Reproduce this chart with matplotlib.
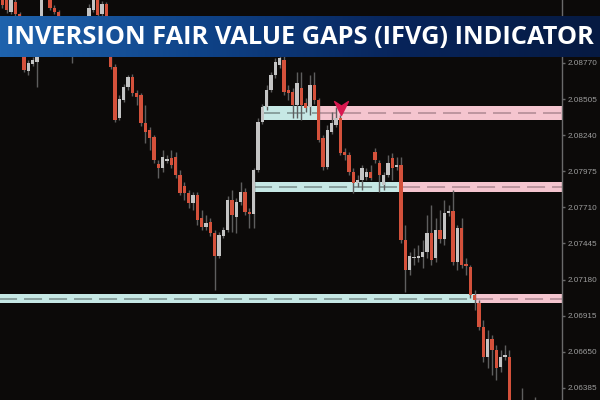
import matplotlib
matplotlib.use("Agg")
import matplotlib.pyplot as plt
import numpy as np
from matplotlib.patches import Rectangle
from matplotlib.path import Path
from matplotlib.colors import LinearSegmentedColormap

plt.rcParams['lines.scale_dashes'] = False

title = "INVERSION FAIR VALUE GAPS (IFVG) INDICATOR"

opens = [2.09291, 2.09247, 2.09144, 2.09217, 2.09129, 2.08902, 2.08711, 2.08762, 2.08777, 2.08938,
         2.09305, 2.09261, 2.09173, 2.09144, 2.09012, 2.08902, 2.08953, 2.08850, 2.08938, 2.09026,
         2.09085, 2.09159, 2.09232, 2.09129, 2.09203, 2.09012, 2.08740, 2.08366, 2.08498, 2.08593,
         2.08667, 2.08549, 2.08535, 2.08329, 2.08278, 2.08226, 2.08028, 2.07999, 2.08050, 2.08072,
         2.08080, 2.07947, 2.07867, 2.07815, 2.07742, 2.07801, 2.07632, 2.07566, 2.07602, 2.07522,
         2.07353, 2.07500, 2.07544, 2.07764, 2.07639, 2.07749, 2.07823, 2.07676, 2.07661, 2.07984,
         2.08336, 2.08447, 2.08571, 2.08681, 2.08755, 2.08792, 2.08571, 2.08557, 2.08461, 2.08586,
         2.08476, 2.08447, 2.08608, 2.08498, 2.08219, 2.08006, 2.08263, 2.08314, 2.08366, 2.08116,
         2.08094, 2.07969, 2.07889, 2.07911, 2.07933, 2.07969, 2.08116, 2.08035, 2.07874, 2.07947,
         2.08072, 2.08006, 2.08021, 2.07470, 2.07250, 2.07338, 2.07338, 2.07345, 2.07382, 2.07522,
         2.07338, 2.07544, 2.07478, 2.07668, 2.07683, 2.07309, 2.07558, 2.07294, 2.07272, 2.07066,
         2.07008, 2.06832, 2.06611, 2.06743, 2.06663, 2.06538, 2.06611, 2.06611, 2.06222, 2.06112,
         2.06185, 2.06112, 2.06061, 2.06149, 2.06002]

closes = [2.09195, 2.09159, 2.09232, 2.09129, 2.08902, 2.08718, 2.08770, 2.08792, 2.08938, 2.09247,
          2.09261, 2.09173, 2.09144, 2.09012, 2.08902, 2.08953, 2.08850, 2.08938, 2.09026, 2.09085,
          2.09173, 2.09247, 2.09122, 2.09203, 2.09012, 2.08740, 2.08351, 2.08505, 2.08593, 2.08667,
          2.08549, 2.08520, 2.08329, 2.08263, 2.08219, 2.08058, 2.07999, 2.08080, 2.08065, 2.08021,
          2.07947, 2.07815, 2.07815, 2.07742, 2.07801, 2.07617, 2.07566, 2.07595, 2.07522, 2.07353,
          2.07507, 2.07544, 2.07764, 2.07654, 2.07749, 2.07823, 2.07676, 2.07661, 2.07984, 2.08336,
          2.08447, 2.08571, 2.08681, 2.08777, 2.08806, 2.08557, 2.08549, 2.08461, 2.08623, 2.08461,
          2.08439, 2.08608, 2.08498, 2.08204, 2.08006, 2.08278, 2.08329, 2.08366, 2.08109, 2.08094,
          2.07969, 2.07889, 2.07911, 2.07999, 2.07969, 2.07925, 2.08058, 2.07947, 2.07947, 2.08035,
          2.07999, 2.08021, 2.07470, 2.07250, 2.07353, 2.07345, 2.07353, 2.07382, 2.07522, 2.07323,
          2.07544, 2.07478, 2.07668, 2.07683, 2.07309, 2.07558, 2.07287, 2.07279, 2.07066, 2.07030,
          2.06832, 2.06611, 2.06743, 2.06663, 2.06531, 2.06611, 2.06626, 2.06222, 2.06112, 2.06185,
          2.06112, 2.06061, 2.06149, 2.06002, 2.05929]

highs = [2.09320, 2.09276, 2.09254, 2.09247, 2.09144, 2.08938, 2.08792, 2.08814, 2.08975, 2.09276,
         2.09342, 2.09291, 2.09195, 2.09159, 2.09026, 2.08975, 2.08975, 2.08968, 2.09056, 2.09115,
         2.09203, 2.09269, 2.09254, 2.09225, 2.09217, 2.09026, 2.08762, 2.08535, 2.08615, 2.08681,
         2.08689, 2.08571, 2.08549, 2.08461, 2.08300, 2.08241, 2.08058, 2.08131, 2.08094, 2.08131,
         2.08116, 2.07984, 2.07896, 2.07837, 2.07823, 2.07823, 2.07691, 2.07654, 2.07632, 2.07544,
         2.07529, 2.07566, 2.07793, 2.07837, 2.07779, 2.07896, 2.07852, 2.07705, 2.07999, 2.08366,
         2.08469, 2.08608, 2.08703, 2.08806, 2.08865, 2.08828, 2.08608, 2.08586, 2.08703, 2.08703,
         2.08513, 2.08681, 2.08703, 2.08513, 2.08241, 2.08314, 2.08410, 2.08447, 2.08388, 2.08146,
         2.08116, 2.07999, 2.07947, 2.08021, 2.07999, 2.08021, 2.08146, 2.08058, 2.07969, 2.08094,
         2.08109, 2.08080, 2.08080, 2.07580, 2.07382, 2.07412, 2.07434, 2.07470, 2.07654, 2.07727,
         2.07632, 2.07691, 2.07764, 2.07727, 2.07837, 2.07580, 2.07632, 2.07338, 2.07287, 2.07103,
         2.07030, 2.06883, 2.06809, 2.06773, 2.06699, 2.06663, 2.06699, 2.06663, 2.06259, 2.06280,
         2.06384, 2.06222, 2.06259, 2.06318, 2.06149]

lows = [2.09173, 2.09137, 2.09129, 2.09115, 2.08880, 2.08703, 2.08681, 2.08748, 2.08593, 2.08924,
        2.09239, 2.09159, 2.09129, 2.08997, 2.08865, 2.08865, 2.08770, 2.08828, 2.08924, 2.09012,
        2.09071, 2.09144, 2.09085, 2.09100, 2.08975, 2.08726, 2.08336, 2.08351, 2.08483, 2.08571,
        2.08527, 2.08461, 2.08307, 2.08182, 2.08131, 2.08035, 2.07925, 2.07969, 2.08035, 2.07999,
        2.07925, 2.07801, 2.07764, 2.07705, 2.07691, 2.07580, 2.07544, 2.07544, 2.07500, 2.07103,
        2.07338, 2.07485, 2.07529, 2.07529, 2.07522, 2.07727, 2.07654, 2.07558, 2.07558, 2.07969,
        2.08322, 2.08425, 2.08557, 2.08659, 2.08733, 2.08535, 2.08498, 2.08366, 2.08366, 2.08351,
        2.08410, 2.08388, 2.08469, 2.08190, 2.07984, 2.07991, 2.08248, 2.08300, 2.08094, 2.08058,
        2.07947, 2.07815, 2.07859, 2.07837, 2.07911, 2.07911, 2.08035, 2.07823, 2.07837, 2.07933,
        2.07911, 2.07984, 2.07448, 2.07088, 2.07213, 2.07287, 2.07309, 2.07265, 2.07338, 2.07287,
        2.07309, 2.07448, 2.07434, 2.07646, 2.07287, 2.07250, 2.07265, 2.07213, 2.07044, 2.06956,
        2.06809, 2.06575, 2.06531, 2.06479, 2.06442, 2.06501, 2.06589, 2.06185, 2.06075, 2.06075,
        2.06075, 2.06002, 2.06017, 2.05965, 2.05892]

# IFVG zones: start bar, inversion bar, upper and lower price
zone_start = [59.9, 58.1, -1.0]
zone_flip = [72.9, 92.2, 109.1]
zone_top = [2.08456, 2.07896, 2.07074]
zone_bottom = [2.08351, 2.07825, 2.07005]

# inversion signal marker
signal_bar = [78.2]
signal_price = [2.08440]

price_ticks = [2.08770, 2.08505, 2.08240, 2.07975, 2.07710, 2.07445, 2.07180, 2.06915, 2.06650, 2.06385]
price_labels = ["%.5f" % p for p in price_ticks]

BG = "#0c0a09"
UP = "#c4c4c4"
DOWN = "#d4513b"
WICK = "#5e5e5e"
CYAN = "#c6e8e5"
PINK = "#f5c5cf"

fig = plt.figure(figsize=(6, 4), dpi=100, facecolor=BG)
ax = fig.add_axes([0, 0, 562 / 600, 1])
ax.set_facecolor(BG)

XMIN, XMAX = -0.54, 129.16
ax.set_xlim(XMIN, XMAX)
ax.set_ylim(2.06296, 2.09232)

o = np.array(opens); c = np.array(closes); h = np.array(highs); l = np.array(lows)
x = np.arange(len(o))
up = c >= o

# zones
for s, f, t, b in zip(zone_start, zone_flip, zone_top, zone_bottom):
    ax.add_patch(Rectangle((s, b), f - s, t - b, facecolor=CYAN, edgecolor="none", zorder=1))
    ax.add_patch(Rectangle((f, b), XMAX + 1 - f, t - b, facecolor=PINK, edgecolor="none", zorder=1))
    mid = (t + b) / 2
    ax.plot([s, f], [mid, mid], color="#7f9593", lw=1.2, dashes=(13, 5), zorder=1.5,
            dash_capstyle="butt")
    ax.plot([f, XMAX + 1], [mid, mid], color="#b48d97", lw=1.2, dashes=(13, 5), zorder=1.5,
            dash_capstyle="butt")

# candles
ax.vlines(x, l, h, color=WICK, lw=1.0, zorder=2)
body_bottom = np.minimum(o, c)
body_h = np.maximum(np.abs(c - o), 0.00003)
ax.bar(x[up], body_h[up], bottom=body_bottom[up], width=0.74, color=UP, linewidth=0, zorder=3)
ax.bar(x[~up], body_h[~up], bottom=body_bottom[~up], width=0.74, color=DOWN, linewidth=0, zorder=3)

# signal arrow
arrow = Path([(-1.0, 1.0), (0.0, 0.35), (1.0, 1.0), (0.0, -1.0), (-1.0, 1.0)],
             [Path.MOVETO, Path.LINETO, Path.LINETO, Path.LINETO, Path.CLOSEPOLY])
ax.plot(signal_bar, signal_price, marker=arrow, markersize=10, color="#d8174f",
        linestyle="none", zorder=4)

# axis styling
for side in ["top", "left", "bottom"]:
    ax.spines[side].set_visible(False)
ax.spines["right"].set_color("#6a6a6a")
ax.spines["right"].set_linewidth(1.0)
ax.set_xticks([])
ax.yaxis.tick_right()
ax.set_yticks(price_ticks)
ax.set_yticklabels(price_labels, family=["Liberation Sans", "DejaVu Sans"])
ax.tick_params(axis="y", direction="out", length=2.5, width=1, color="#6a6a6a",
               labelcolor="#9c9c9c", labelsize=5.9, pad=1.2)

# banner
bax = fig.add_axes([0, 1 - 57 / 400, 1, 41 / 400])
cmap = LinearSegmentedColormap.from_list("banner", ["#1f63ad", "#0f4388", "#08245a", "#061a42"])
bax.imshow(np.linspace(0, 1, 256)[None, :], aspect="auto", cmap=cmap, extent=[0, 1, 0, 1])
bax.set_xlim(0, 1); bax.set_ylim(0, 1)
bax.set_axis_off()
txt = bax.text(0.5, 0.47, title, ha="center", va="center", color="white",
               fontsize=20, fontweight="bold", family=["Open Sans", "DejaVu Sans"])
fig.canvas.draw()
w = txt.get_window_extent().width
txt.set_fontsize(20 * 588 / w)

fig.savefig("out.png", dpi=100, facecolor=BG)
